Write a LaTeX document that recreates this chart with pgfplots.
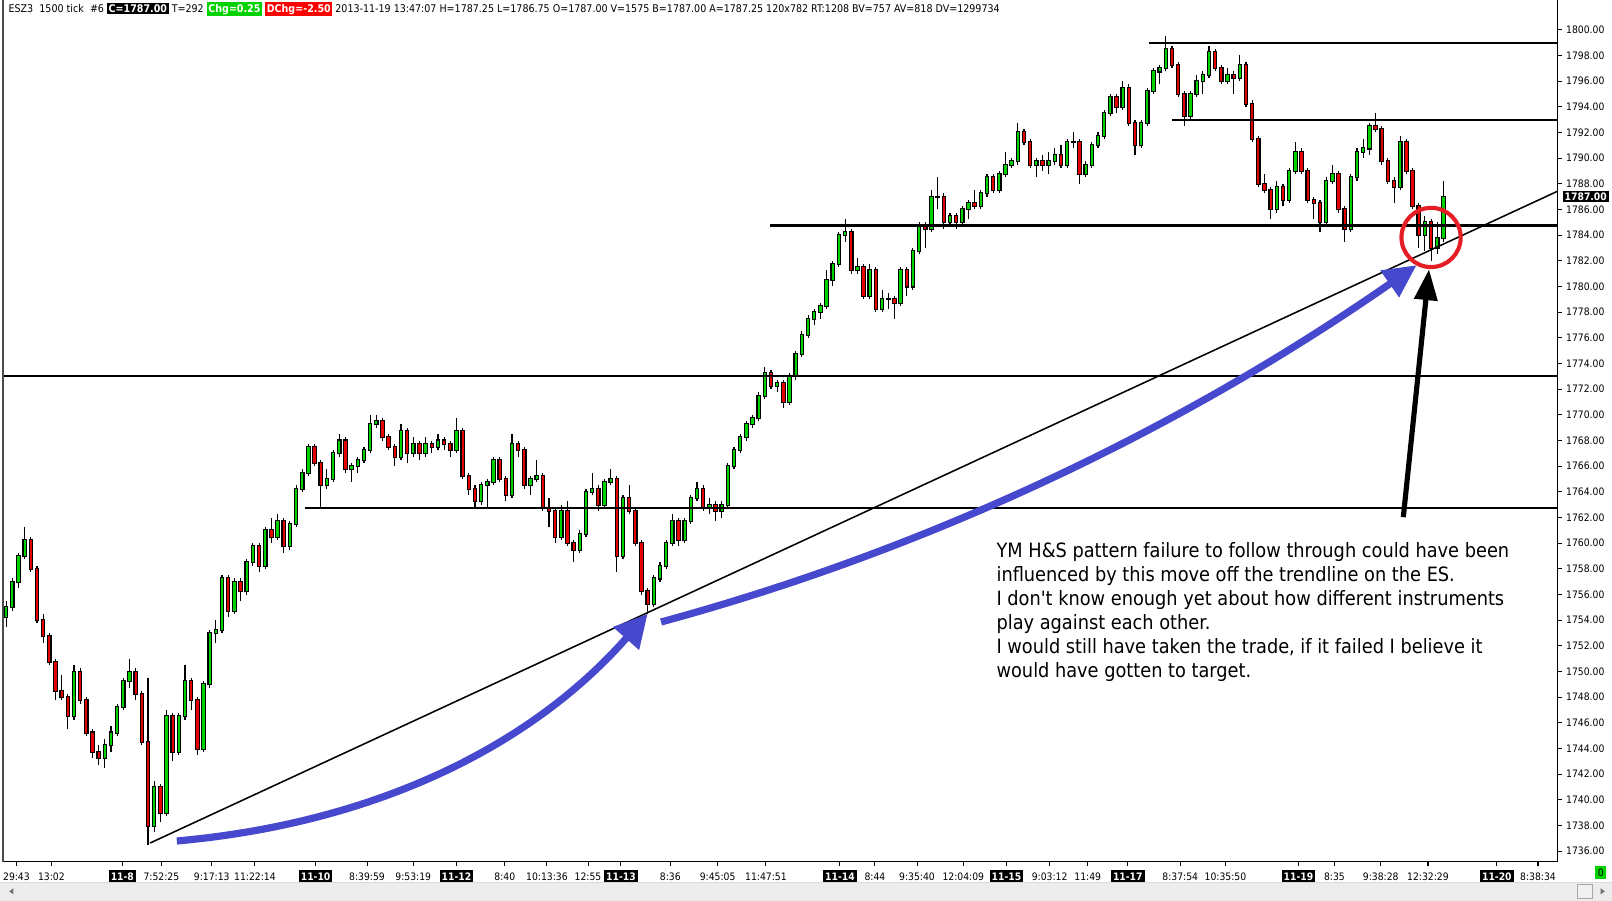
\documentclass[border=0pt]{standalone}
\usepackage{pgfplots}
\pgfplotsset{compat=1.18}
\usepackage{pgfplotstable}
\usepackage{fontspec}
\setmainfont{DejaVu Sans}
\newfontfamily\condfont{DejaVu Sans Condensed}
\usetikzlibrary{arrows.meta}
\definecolor{cgreen}{RGB}{0,210,0}
\definecolor{cred}{RGB}{230,0,0}
\definecolor{arrowblue}{RGB}{70,72,205}
\definecolor{circred}{RGB}{228,30,36}
\definecolor{scrollgray}{RGB}{236,236,236}
\newcommand{\dbox}[1]{{\setlength{\fboxsep}{1pt}\colorbox{black}{\textcolor{white}{\bfseries #1}}}}
\newcommand{\hb}[2]{{\setlength{\fboxsep}{0.8pt}\colorbox{#1}{\textcolor{white}{\bfseries #2}}}}

\pgfplotstableread{
x o h l c
6 1754.25 1755.5 1753.5 1755.0
12 1755.0 1757.25 1754.75 1757.0
18 1757.0 1759.25 1756.5 1759.0
24 1759.0 1761.25 1758.75 1760.25
30 1760.25 1760.5 1757.75 1758.0
36 1758.0 1758.25 1753.75 1754.0
42 1754.0 1754.5 1752.25 1752.75
48 1752.75 1753.0 1750.5 1750.75
54 1750.75 1751.0 1747.75 1748.5
60 1748.5 1749.75 1747.75 1748.0
66 1748.0 1748.25 1745.5 1746.5
72 1746.5 1750.5 1746.25 1750.0
78 1750.0 1750.25 1747.5 1747.75
84 1747.75 1748.0 1745.0 1745.25
90 1745.25 1745.5 1743.25 1743.75
96 1743.75 1744.25 1742.75 1743.25
102 1743.25 1744.75 1742.5 1744.25
108 1744.25 1745.75 1743.75 1745.25
114 1745.25 1747.5 1745.0 1747.25
120 1747.25 1749.5 1747.0 1749.25
126 1749.25 1751.0 1748.75 1750.0
132 1750.0 1750.25 1747.75 1748.25
138 1748.25 1748.5 1744.25 1744.5
144 1744.5 1749.5 1736.5 1738.0
150 1738.0 1741.5 1737.5 1741.0
156 1741.0 1741.25 1738.25 1739.0
162 1739.0 1747.0 1738.75 1746.5
168 1746.5 1746.75 1743.0 1743.75
174 1743.75 1746.75 1743.5 1746.5
180 1746.5 1750.5 1746.25 1749.25
186 1749.25 1749.5 1747.0 1747.75
192 1747.75 1748.0 1743.5 1744.0
198 1744.0 1749.25 1743.75 1749.0
204 1749.0 1753.25 1748.75 1753.0
210 1753.0 1754.0 1752.25 1753.25
216 1753.25 1757.5 1753.0 1757.25
222 1757.25 1757.5 1754.25 1754.75
228 1754.75 1757.25 1754.5 1757.0
234 1757.0 1757.25 1755.5 1756.25
240 1756.25 1758.75 1756.0 1758.5
246 1758.5 1760.0 1758.25 1759.75
252 1759.75 1760.0 1757.75 1758.25
258 1758.25 1761.25 1758.0 1761.0
264 1761.0 1762.0 1760.0 1760.5
270 1760.5 1762.25 1760.25 1761.75
276 1761.75 1762.0 1759.25 1759.75
282 1759.75 1761.75 1759.5 1761.5
288 1761.5 1764.5 1761.25 1764.25
294 1764.25 1765.75 1764.0 1765.5
300 1765.5 1767.75 1765.25 1767.5
306 1767.5 1767.75 1766.0 1766.25
312 1766.25 1766.5 1762.75 1764.5
318 1764.5 1765.75 1764.25 1765.0
324 1765.0 1767.25 1764.75 1767.0
330 1767.0 1768.5 1766.75 1768.0
336 1768.0 1768.25 1765.5 1765.75
342 1765.75 1766.25 1764.75 1766.0
348 1766.0 1766.75 1765.5 1766.5
354 1766.5 1767.5 1766.25 1767.25
360 1767.25 1770.0 1767.0 1769.25
366 1769.25 1770.0 1769.0 1769.5
372 1769.5 1769.75 1768.0 1768.25
378 1768.25 1768.5 1767.25 1767.5
384 1767.5 1767.75 1766.0 1766.75
390 1766.75 1769.25 1766.5 1768.75
396 1768.75 1769.0 1766.25 1767.0
402 1767.0 1768.25 1766.75 1767.75
408 1767.75 1768.0 1766.5 1767.0
414 1767.0 1768.25 1766.75 1767.75
420 1767.75 1768.0 1767.0 1767.5
426 1767.5 1768.5 1767.25 1768.0
432 1768.0 1768.25 1767.25 1767.75
438 1767.75 1768.0 1766.75 1767.25
444 1767.25 1769.75 1767.0 1768.75
450 1768.75 1769.0 1765.0 1765.25
456 1765.25 1765.5 1763.75 1764.25
462 1764.25 1764.5 1762.75 1763.25
468 1763.25 1764.75 1763.0 1764.5
474 1764.5 1765.0 1762.75 1764.75
480 1764.75 1766.75 1764.5 1766.5
486 1766.5 1766.75 1764.75 1765.0
492 1765.0 1765.25 1763.25 1763.75
498 1763.75 1768.5 1763.5 1767.75
504 1767.75 1768.0 1766.75 1767.25
510 1767.25 1767.5 1764.25 1764.5
516 1764.5 1765.25 1763.75 1765.0
522 1765.0 1766.5 1764.75 1765.25
528 1765.25 1765.5 1762.5 1762.75
534 1762.75 1763.5 1761.25 1762.5
540 1762.5 1762.75 1760.0 1760.5
546 1760.5 1763.0 1760.25 1762.5
552 1762.5 1763.25 1759.75 1760.0
558 1760.0 1760.25 1758.5 1759.5
564 1759.5 1761.0 1759.25 1760.75
570 1760.75 1764.25 1760.5 1764.0
576 1764.0 1765.5 1763.75 1764.25
582 1764.25 1764.5 1762.5 1763.0
588 1763.0 1765.0 1762.75 1764.75
594 1764.75 1765.75 1764.5 1765.0
600 1765.0 1765.25 1757.75 1759.0
606 1759.0 1763.75 1758.75 1763.5
612 1763.5 1764.5 1762.25 1762.5
618 1762.5 1762.75 1759.75 1760.0
624 1760.0 1760.25 1756.0 1756.25
630 1756.25 1756.5 1754.5 1755.25
636 1755.25 1757.5 1755.0 1757.25
642 1757.25 1758.5 1757.0 1758.25
648 1758.25 1760.25 1758.0 1760.0
654 1760.0 1762.25 1759.75 1761.75
660 1761.75 1762.0 1759.75 1760.25
666 1760.25 1762.0 1760.0 1761.75
672 1761.75 1763.75 1761.5 1763.5
678 1763.5 1764.75 1763.25 1764.25
684 1764.25 1764.5 1762.5 1762.75
690 1762.75 1763.5 1762.25 1763.0
696 1763.0 1763.25 1761.75 1762.5
702 1762.5 1763.25 1762.0 1763.0
708 1763.0 1766.25 1762.75 1766.0
714 1766.0 1767.5 1765.75 1767.25
720 1767.25 1768.5 1767.0 1768.25
726 1768.25 1769.5 1768.0 1769.25
732 1769.25 1770.0 1769.0 1769.75
738 1769.75 1771.75 1769.5 1771.5
744 1771.5 1773.75 1771.25 1773.25
750 1773.25 1773.5 1772.0 1772.25
756 1772.25 1772.75 1771.75 1772.5
762 1772.5 1772.75 1770.5 1771.0
768 1771.0 1773.25 1770.75 1773.0
774 1773.0 1775.0 1772.75 1774.75
780 1774.75 1776.5 1774.5 1776.25
786 1776.25 1777.75 1776.0 1777.5
792 1777.5 1778.25 1777.0 1778.0
798 1778.0 1778.75 1777.5 1778.5
804 1778.5 1781.25 1778.25 1780.5
810 1780.5 1782.0 1780.0 1781.75
816 1781.75 1784.25 1781.5 1784.0
822 1784.0 1785.25 1783.5 1784.25
828 1784.25 1784.5 1781.0 1781.25
834 1781.25 1782.25 1781.0 1781.5
840 1781.5 1781.75 1779.0 1779.25
846 1779.25 1781.75 1779.0 1781.25
852 1781.25 1781.5 1778.0 1778.25
858 1778.25 1779.75 1778.0 1779.0
864 1779.0 1779.5 1778.25 1779.0
870 1779.0 1779.25 1777.5 1778.75
876 1778.75 1781.5 1778.5 1781.25
882 1781.25 1781.5 1779.25 1780.0
888 1780.0 1783.0 1779.75 1782.75
894 1782.75 1785.0 1782.5 1784.75
900 1784.75 1785.0 1783.0 1784.5
906 1784.5 1787.5 1784.25 1787.0
912 1787.0 1788.5 1786.0 1787.0
918 1787.0 1787.25 1784.5 1785.0
924 1785.0 1785.75 1784.75 1785.5
930 1785.5 1785.75 1784.5 1785.0
936 1785.0 1786.25 1784.75 1786.0
942 1786.0 1786.75 1785.25 1786.5
948 1786.5 1787.5 1786.0 1786.25
954 1786.25 1787.5 1786.0 1787.25
960 1787.25 1788.75 1787.0 1788.5
966 1788.5 1788.75 1787.25 1787.5
972 1787.5 1789.0 1787.25 1788.75
978 1788.75 1790.5 1788.5 1789.5
984 1789.5 1790.0 1789.25 1789.75
990 1789.75 1792.75 1789.5 1792.0
996 1792.0 1792.25 1791.0 1791.25
1002 1791.25 1791.5 1789.25 1789.5
1008 1789.5 1790.0 1788.5 1789.75
1014 1789.75 1790.25 1789.0 1789.5
1020 1789.5 1790.5 1788.75 1789.75
1026 1789.75 1790.75 1789.5 1790.25
1032 1790.25 1791.0 1789.25 1789.5
1038 1789.5 1791.5 1789.25 1791.25
1044 1791.25 1792.0 1790.75 1791.25
1050 1791.25 1791.5 1788.0 1788.75
1056 1788.75 1789.75 1788.5 1789.5
1062 1789.5 1791.25 1789.25 1791.0
1068 1791.0 1792.0 1790.75 1791.75
1074 1791.75 1793.75 1791.5 1793.5
1080 1793.5 1795.0 1793.25 1794.75
1086 1794.75 1795.0 1793.5 1794.0
1092 1794.0 1796.0 1793.75 1795.5
1098 1795.5 1795.75 1792.5 1792.75
1104 1792.75 1793.0 1790.25 1791.0
1110 1791.0 1793.0 1790.75 1792.75
1116 1792.75 1795.5 1792.5 1795.25
1122 1795.25 1797.0 1795.0 1796.75
1128 1796.75 1797.25 1795.75 1797.0
1134 1797.0 1799.5 1796.75 1798.5
1140 1798.5 1798.75 1797.0 1797.25
1146 1797.25 1797.5 1794.75 1795.0
1152 1795.0 1795.25 1792.5 1793.25
1158 1793.25 1795.25 1793.0 1795.0
1164 1795.0 1796.5 1794.75 1796.0
1170 1796.0 1796.75 1795.0 1796.5
1176 1796.5 1798.75 1796.25 1798.25
1182 1798.25 1798.5 1796.75 1797.0
1188 1797.0 1797.25 1795.75 1796.0
1194 1796.0 1797.0 1795.75 1796.5
1200 1796.5 1796.75 1795.0 1796.25
1206 1796.25 1798.0 1796.0 1797.25
1212 1797.25 1797.5 1794.0 1794.25
1218 1794.25 1794.5 1791.25 1791.5
1224 1791.5 1791.75 1787.75 1788.0
1230 1788.0 1788.75 1787.25 1787.5
1236 1787.5 1787.75 1785.25 1786.0
1242 1786.0 1788.25 1785.75 1787.75
1248 1787.75 1788.0 1786.25 1786.75
1254 1786.75 1789.25 1786.5 1789.0
1260 1789.0 1791.25 1788.75 1790.5
1266 1790.5 1790.75 1788.75 1789.0
1272 1789.0 1789.25 1786.5 1786.75
1278 1786.75 1787.0 1785.25 1786.5
1284 1786.5 1786.75 1784.25 1785.0
1290 1785.0 1788.5 1784.75 1788.25
1296 1788.25 1789.5 1788.0 1788.75
1302 1788.75 1789.0 1785.75 1786.0
1308 1786.0 1786.25 1783.5 1784.5
1314 1784.5 1788.75 1784.25 1788.5
1320 1788.5 1790.75 1788.25 1790.5
1326 1790.5 1791.5 1790.0 1790.75
1332 1790.75 1792.75 1790.25 1792.5
1338 1792.5 1793.5 1792.0 1792.25
1344 1792.25 1792.5 1789.5 1789.75
1350 1789.75 1790.0 1788.0 1788.25
1356 1788.25 1788.5 1786.5 1787.75
1362 1787.75 1791.75 1787.5 1791.25
1368 1791.25 1791.5 1788.75 1789.0
1374 1789.0 1789.25 1786.0 1786.25
1380 1786.25 1786.5 1783.0 1784.0
1386 1784.0 1785.5 1782.75 1785.0
1392 1785.0 1785.25 1782.0 1783.0
1398 1783.0 1785.0 1782.5 1783.75
1404 1783.75 1788.25 1783.5 1787.0
}\candles

\begin{document}
\begin{tikzpicture}
\useasboundingbox (0,0) rectangle (784pt,438pt);
\fill[white] (0,0) rectangle (784pt,438pt);
% scrollbar
\fill[scrollgray] (0,0) rectangle (784pt,9pt);
\draw[black!15, line width=0.4pt] (0,9pt) -- (784pt,9pt);
\fill[black!55] (4.5pt,4.5pt) -- (6.5pt,6pt) -- (6.5pt,3pt) -- cycle;
\filldraw[fill=black!6, draw=black!35, line width=0.4pt] (767pt,1pt) rectangle (774.5pt,8pt);
\fill[black!55] (780.5pt,4.5pt) -- (778.5pt,6pt) -- (778.5pt,3pt) -- cycle;
\begin{axis}[
  at={(1.5pt,19pt)}, anchor=south west,
  width=756pt, height=419pt, scale only axis,
  xmin=3, xmax=1515, ymin=1735.20, ymax=1802.32,
  clip=false,
  axis x line*=bottom, axis y line*=right,
  axis line style={black, line width=0.6pt},
  tick align=outside, major tick length=2pt,
  tick style={black, line width=0.5pt},
  tick label style={font=\condfont\fontsize{5.0}{6}\selectfont},
  xtick={16,50,119,157,206,248,307,357,402,444,491,532,572,604,652,698,745,817,851,892,937,979,1021,1058,1097,1148,1192,1263,1298,1343,1389,1456,1496},
  xticklabels={29:43,13:02,\dbox{11-8},7:52:25,9:17:13,11:22:14,\dbox{11-10},8:39:59,9:53:19,\dbox{11-12},8:40,10:13:36,12:55,\dbox{11-13},8:36,9:45:05,11:47:51,\dbox{11-14},8:44,9:35:40,12:04:09,\dbox{11-15},9:03:12,11:49,\dbox{11-17},8:37:54,10:35:50,\dbox{11-19},8:35,9:38:28,12:32:29,\dbox{11-20},8:38:34},
  xticklabel style={anchor=base, yshift=-7pt},
  ytick={1736,1738,...,1800},
  yticklabel style={anchor=west, inner sep=0pt, xshift=2pt},
  /pgf/number format/assume math mode=true,
  yticklabel={\pgfmathprintnumber[fixed,fixed zerofill,precision=2,1000 sep={}]{\tick}},
]
% wicks
\addplot[draw=none, mark=none, forget plot,
  error bars/.cd, y dir=plus, y explicit, error mark=none,
  error bar style={draw=black, line width=0.55pt}]
  table[x=x, y=l, y error expr={\thisrow{h}-\thisrow{l}}] {\candles};
% body outline
\addplot[draw=none, mark=none, forget plot,
  error bars/.cd, y dir=plus, y explicit, error mark=none,
  error bar style={draw=black, line width=2.2pt}]
  table[x=x, y expr={min(\thisrow{o},\thisrow{c})-0.08}, y error expr={abs(\thisrow{c}-\thisrow{o})+0.16}] {\candles};
% up bodies
\addplot[draw=none, mark=none, forget plot,
  restrict expr to domain={\thisrow{c}-\thisrow{o}}{0:100},
  error bars/.cd, y dir=plus, y explicit, error mark=none,
  error bar style={draw=cgreen, line width=1.1pt}]
  table[x=x, y expr={min(\thisrow{o},\thisrow{c})}, y error expr={abs(\thisrow{c}-\thisrow{o})}] {\candles};
% down bodies
\addplot[draw=none, mark=none, forget plot,
  restrict expr to domain={\thisrow{c}-\thisrow{o}}{-100:-0.01},
  error bars/.cd, y dir=plus, y explicit, error mark=none,
  error bar style={draw=cred, line width=1.1pt}]
  table[x=x, y expr={min(\thisrow{o},\thisrow{c})}, y error expr={abs(\thisrow{c}-\thisrow{o})}] {\candles};

% horizontal levels
\addplot[black, line width=1pt, forget plot] coordinates {(1118,1799) (1515,1799)};
\addplot[black, line width=1pt, forget plot] coordinates {(1140,1793) (1515,1793)};
\addplot[black, line width=1pt, forget plot] coordinates {(749,1784.75) (1515,1784.75)};
\addplot[black, line width=1pt, forget plot] coordinates {(3,1773) (1515,1773)};
\addplot[black, line width=1pt, forget plot] coordinates {(297,1762.75) (1515,1762.75)};
% trendline
\addplot[black, line width=0.75pt, forget plot] coordinates {(146,1736.64) (1515,1787.42)};

% left frame line
\draw[black!70, line width=0.6pt] (rel axis cs:0,0) -- (rel axis cs:0,1);

% annotations
\draw[arrowblue, line width=3.5pt, -{Triangle[length=16pt,width=16pt]}]
  (axis cs:172,1736.80) .. controls (axis cs:363,1738.16) and (axis cs:516,1744.09) .. (axis cs:630,1754.50);
\draw[arrowblue, line width=3.5pt, -{Triangle[length=16pt,width=15pt]}]
  (axis cs:643,1753.86) .. controls (axis cs:901,1759.47) and (axis cs:1146,1768.74) .. (axis cs:1378,1781.66);
\draw[black, line width=2.5pt, -{Triangle[length=15pt,width=11pt]}]
  (axis cs:1365,1762.03) -- (axis cs:1390,1781.34);
\draw[circred, line width=2pt] (axis cs:1392,1783.82) circle[radius=14.4pt];

\node[anchor=north west, align=left, inner sep=0pt, font=\condfont\fontsize{9.6}{11.6}\selectfont]
  at (axis cs:969,1760.06) {YM H\&S pattern failure to follow through could have been\\influenced by this move off the trendline on the ES.\\I don't know enough yet about how different instruments\\play against each other.\\I would still have taken the trade, if it failed I believe it\\would have gotten to target.};

% current price tag
\node[fill=black, text=white, anchor=west, inner sep=0.8pt, xshift=2.5pt, font=\condfont\bfseries\fontsize{5.0}{6}\selectfont]
  at (axis cs:1515,1787) {1787.00};
% green zero box
\node[fill=cgreen, inner sep=1.2pt, font=\condfont\fontsize{5.0}{6}\selectfont]
  at (axis cs:1557,1734.32) {0};
\end{axis}
% header
\node[anchor=west, inner sep=0pt, font=\condfont\fontsize{5.15}{6}\selectfont] at (4pt,433.5pt)
  {ESZ3\hspace{3pt}1500 tick\hspace{3pt}\#6 \hb{black}{C=1787.00} T=292 \hb{cgreen}{Chg=0.25} \hb{red}{DChg=-2.50} 2013-11-19 13:47:07 H=1787.25 L=1786.75 O=1787.00 V=1575 B=1787.00 A=1787.25 120x782 RT:1208 BV=757 AV=818 DV=1299734};
\end{tikzpicture}
\end{document}
